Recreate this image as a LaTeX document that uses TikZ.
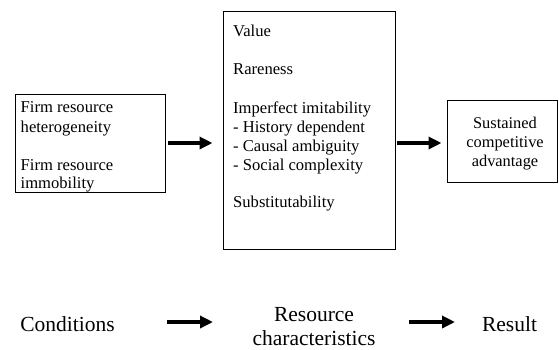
\documentclass[tikz,border=0pt]{standalone}
\usepackage{fontspec}
\setmainfont{Liberation Serif}
\usetikzlibrary{arrows.meta}
\tikzset{
  box/.style={draw, line width=1pt, inner sep=0pt, fill=none},
  txt/.style={anchor=base west, inner sep=0pt, font=\fontsize{16.6}{20}\selectfont},
  ctxt/.style={anchor=base, inner sep=0pt, font=\fontsize{16.4}{20}\selectfont},
  btxt/.style={anchor=base, inner sep=0pt, font=\fontsize{21.5}{25}\selectfont},
  arr/.style={line width=3.5pt, -{Triangle[length=13pt,width=12pt]}}
}
\begin{document}
\begin{tikzpicture}[x=1pt,y=-1pt]
\useasboundingbox (0,0) rectangle (559,349);
% boxes
\node[box, minimum width=150pt, minimum height=98pt] (left) at (90,143) {};
\node[box, minimum width=172pt, minimum height=238pt] (mid) at (309,130) {};
\node[box, minimum width=110.5pt, minimum height=82pt] (right) at (502.25,141) {};
% left text
\node[txt] (l1) at (20.5,112) {Firm resource};
\node[txt] (l2) at (20.5,132) {heterogeneity};
\node[txt] (l3) at (20.5,170) {Firm resource};
\node[txt] (l4) at (20.5,188) {immobility};
% middle text
\node[txt] (m1) at (233,36) {Value};
\node[txt] (m2) at (233,74.5) {Rareness};
\node[txt] (m3) at (233,113) {Imperfect imitability};
\node[txt] (m4) at (233,132.5) {- History dependent};
\node[txt] (m5) at (233,151) {- Causal ambiguity};
\node[txt] (m6) at (233,170) {- Social complexity};
\node[txt] (m7) at (233,207) {Substitutability};
% right text
\node[ctxt] (r1) at (505,128) {Sustained};
\node[ctxt] (r2) at (505,147.5) {competitive};
\node[ctxt] (r3) at (505,166.5) {advantage};
% connectors
\draw[arr] ([xshift=2pt]left.east) -- ([xshift=-10pt]left.east -| mid.west);
\draw[arr] ([xshift=1pt]mid.east |- left.east) -- ([xshift=-5pt]right.west |- left.east);
% bottom labels
\node[btxt] (cond) at (67.5,331.5) {Conditions};
\node[btxt] (res1) at (314,321) {Resource};
\node[btxt] (res2) at (314,345) {characteristics};
\node[btxt] (result) at (509.5,331.5) {Result};
\coordinate (b1s) at (167,322);
\coordinate (b1e) at (213,322);
\coordinate (b2s) at (409,322);
\coordinate (b2e) at (455,322);
\draw[arr] (b1s) -- (b1e);
\draw[arr] (b2s) -- (b2e);
\end{tikzpicture}
\end{document}
